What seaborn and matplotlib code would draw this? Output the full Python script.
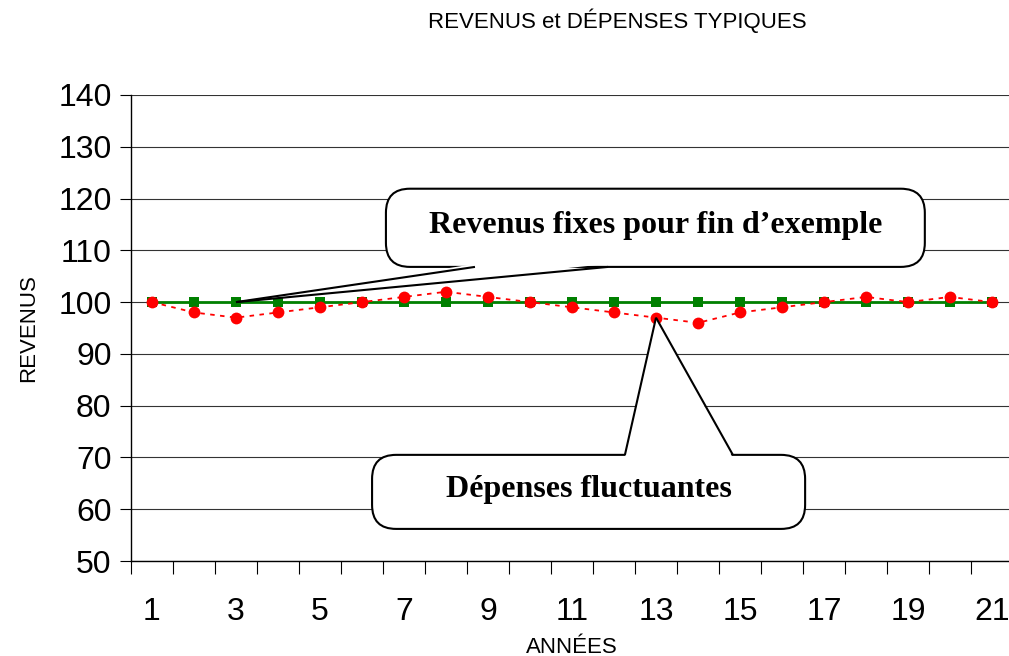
import numpy as np
import pandas as pd
import seaborn as sns
import matplotlib
matplotlib.use("Agg")
import matplotlib.pyplot as plt
from matplotlib.patches import FancyBboxPatch, Polygon
from matplotlib.transforms import IdentityTransform

years = list(range(1, 22))
revenus = [100] * 21
depenses = [100, 98, 97, 98, 99, 100, 101, 102, 101, 100, 99, 98, 97, 96, 98, 99, 100, 101, 100, 101, 100]
tick_labels = [str(v) if v % 2 == 1 else "" for v in years]

title = "REVENUS et DÉPENSES TYPIQUES"
ylabel = "REVENUS"
xlabel = "ANNÉES"
note_rev = "Revenus fixes pour fin d\u2019exemple"
note_dep = "Dépenses fluctuantes"

sns.set_theme(style="white")
plt.rcParams["font.family"] = ["Liberation Sans", "DejaVu Sans"]
plt.rcParams["text.color"] = "black"
plt.rcParams["axes.labelcolor"] = "black"
plt.rcParams["xtick.color"] = "black"
plt.rcParams["ytick.color"] = "black"

fig = plt.figure(figsize=(10.09, 6.56), dpi=100)
ax = fig.add_axes([0.1298, 0.1448, 0.8742, 0.7104])

df = pd.DataFrame({"year": years, "revenus": revenus, "depenses": depenses})

sns.lineplot(data=df, x="year", y="revenus", ax=ax, color="#008000", lw=2,
             marker="s", markersize=7, markeredgewidth=0, zorder=3)
sns.lineplot(data=df, x="year", y="depenses", ax=ax, color="#ff0000", lw=1.3,
             linestyle=(0, (2.5, 3)), marker="o", markersize=8.5, markeredgewidth=0, zorder=4)

ax.set_xlim(0.5, 21.5)
ax.set_ylim(50, 140)
ax.set_yticks(range(50, 141, 10))
ax.yaxis.grid(True, color="#333333", lw=0.8)
ax.xaxis.grid(False)
ax.set_xticks(years)
ax.set_xticklabels(tick_labels)
ax.set_xticks(np.arange(0.5, 22, 1), minor=True)
ax.tick_params(axis="x", which="major", length=0, pad=26, labelsize=23, labelcolor="black")
ax.tick_params(axis="x", which="minor", length=9, width=0.8, direction="out", color="black", bottom=True)
ax.tick_params(axis="y", which="major", length=8, width=0.8, direction="out", color="black",
               left=True, labelsize=23, pad=6, labelcolor="black")
for s in ["top", "right"]:
    ax.spines[s].set_visible(False)
for s in ["left", "bottom"]:
    ax.spines[s].set_color("black")
    ax.spines[s].set_linewidth(1.0)

ax.set_ylabel(ylabel, fontsize=16, labelpad=14, color="black")
ax.set_xlabel(xlabel, fontsize=16, labelpad=7, color="black")
fig.text(0.612, 0.968, title, ha="center", va="center", fontsize=16, color="black")


def callout(box_xy0, box_xy1, base_x, tip, text, pointer_side):
    T = ax.transData
    (x0, y0) = T.transform(box_xy0)
    (x1, y1) = T.transform(box_xy1)
    bx0 = T.transform((base_x[0], box_xy0[1]))[0]
    bx1 = T.transform((base_x[1], box_xy0[1]))[0]
    tx, ty = T.transform(tip)
    left, right = min(x0, x1), max(x0, x1)
    bot, top = min(y0, y1), max(y0, y1)
    r = 24
    box = FancyBboxPatch((left, bot), right - left, top - bot,
                         boxstyle=f"round,pad=0,rounding_size={r}",
                         transform=IdentityTransform(), facecolor="white",
                         edgecolor="black", lw=1.5, zorder=6, clip_on=False)
    fig.add_artist(box)
    edge_y = bot if pointer_side == "bottom" else top
    inner = 3 if pointer_side == "bottom" else -3
    tri = Polygon([(bx0, edge_y + inner), (bx1, edge_y + inner), (tx, ty)],
                  closed=True, transform=IdentityTransform(), facecolor="white",
                  edgecolor="none", zorder=7, clip_on=False)
    fig.add_artist(tri)
    for bx in (bx0, bx1):
        fig.add_artist(plt.Line2D([bx, tx], [edge_y, ty], transform=IdentityTransform(),
                                  color="black", lw=1.5, zorder=8, solid_capstyle="butt"))
    fig.text((left + right) / 2 / fig.bbox.width, (bot + top) / 2 / fig.bbox.height + 0.004, text,
             ha="center", va="center", fontsize=23, fontweight="bold", color="black",
             family=["Liberation Serif", "DejaVu Serif"], zorder=9)


fig.canvas.draw()
callout((6.57, 121.9), (19.4, 106.8), (8.69, 11.86), (years[2], revenus[2]), note_rev, "bottom")
callout((6.24, 70.5), (16.55, 56.2), (12.26, 14.83), (years[12], depenses[12]), note_dep, "top")

fig.savefig("out.png", dpi=100)
